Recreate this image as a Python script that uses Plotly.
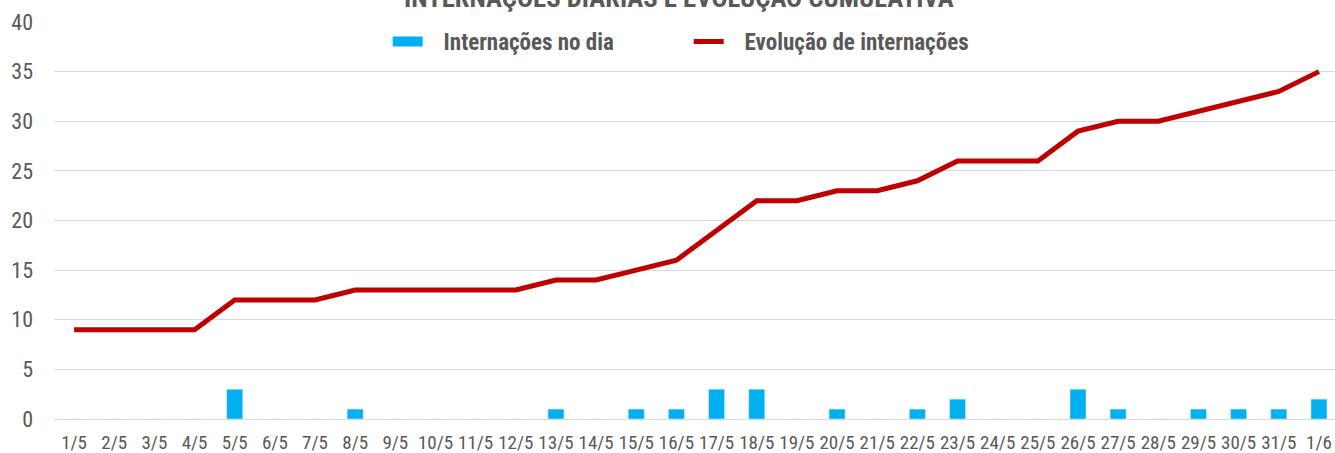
import plotly.graph_objects as go

days = ["1/5", "2/5", "3/5", "4/5", "5/5", "6/5", "7/5", "8/5", "9/5", "10/5",
        "11/5", "12/5", "13/5", "14/5", "15/5", "16/5", "17/5", "18/5", "19/5", "20/5",
        "21/5", "22/5", "23/5", "24/5", "25/5", "26/5", "27/5", "28/5", "29/5", "30/5",
        "31/5", "1/6"]
daily = [0, 0, 0, 0, 3, 0, 0, 1, 0, 0,
         0, 0, 1, 0, 1, 1, 3, 3, 0, 1,
         0, 1, 2, 0, 0, 3, 1, 0, 1, 1,
         1, 2]
cumulative = [9, 9, 9, 9, 12, 12, 12, 13, 13, 13,
              13, 13, 14, 14, 15, 16, 19, 22, 22, 23,
              23, 24, 26, 26, 26, 29, 30, 30, 31, 32,
              33, 35]
y_ticks = [0, 5, 10, 15, 20, 25, 30, 35, 40]

FONT = "Liberation Sans Narrow, Arial Narrow, Roboto Condensed, Liberation Sans, Arial, sans-serif"
GRAY = "#595959"
BLUE = "#00b0f0"
RED = "#c00000"
PAD = "\u00a0\u00a0\u00a0"

fig = go.Figure()
fig.add_trace(go.Bar(x=days, y=daily, name="Internações no dia", marker_color=BLUE,
                     width=0.4, showlegend=False))
# legend entry for the bars (wide rectangle symbol like the original)
fig.add_trace(go.Scatter(x=[None], y=[None], mode="lines", name=PAD + "Internações no dia",
                         line=dict(color=BLUE, width=13)))
fig.add_trace(go.Scatter(x=days, y=cumulative, mode="lines", name=PAD + "Evolução de internações",
                         line=dict(color=RED, width=5), cliponaxis=False))

fig.update_layout(
    width=1335, height=453,
    margin=dict(l=54, r=0, t=22, b=34, autoexpand=False),
    paper_bgcolor="white", plot_bgcolor="white",
    font=dict(family=FONT, color=GRAY, size=22),
    showlegend=True,
    legend=dict(orientation="h", x=0.2605, xanchor="left", y=1.005, yanchor="top",
                font=dict(family=FONT, size=23, color=GRAY, weight="bold"),
                bgcolor="rgba(0,0,0,0)", entrywidth=256, traceorder="normal"),
    bargap=0.6,
    annotations=[dict(text="<b>INTERNAÇÕES DIÁRIAS E EVOLUÇÃO CUMULATIVA</b>",
                      xref="paper", yref="paper", x=0.488, y=1.015,
                      xanchor="center", yanchor="bottom", showarrow=False,
                      font=dict(family=FONT, size=26.7, color=GRAY))],
)
fig.update_xaxes(type="category", range=[-0.5, 31.4], showgrid=False, showline=False,
                 ticks="", tickangle=0, automargin=False,
                 tickfont=dict(size=19, color=GRAY), ticklabelstandoff=10)
fig.update_yaxes(range=[0, 40], tickvals=y_ticks, showgrid=True, gridcolor="#d9d9d9",
                 gridwidth=1, zeroline=True, zerolinecolor="#d9d9d9", zerolinewidth=1,
                 showline=False, ticks="", automargin=False,
                 tickfont=dict(size=22, color=GRAY), ticklabelstandoff=20)

fig.write_html("out.html", config={"displayModeBar": False},
               post_script="document.body.style.margin='0';")
